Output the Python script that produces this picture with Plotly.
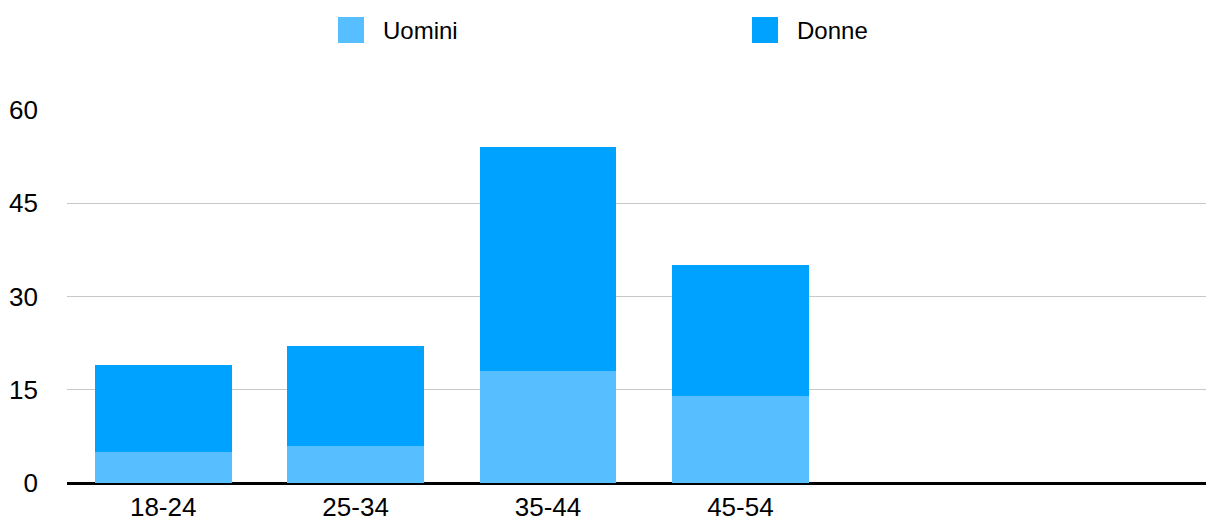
import plotly.graph_objects as go

# age groups shown on the axis
categories = ["18-24", "25-34", "35-44", "45-54"]
uomini = [5, 6, 18, 14]
donne = [14, 16, 36, 21]

series = [("Uomini", uomini, "#57BFFF"), ("Donne", donne, "#00A2FF")]
FONT = "Liberation Sans, Arial, Helvetica, sans-serif"

W, H = 1206, 522
L, R, T, B = 67, 0, 110, 39

fig = go.Figure()
for name, vals, color in series:
    fig.add_trace(go.Bar(x=categories, y=vals, name=name, marker_color=color,
                         marker_line_width=0, showlegend=False))


# plotly caps legend swatch size, so draw the legend by hand (page pixels -> paper coords)
def px_x(p):
    return (p - L) / (W - L - R)


def px_y(p):
    return (H - B - p) / (H - T - B)


legend_x = [338, 752]
for (name, vals, color), x0 in zip(series, legend_x):
    fig.add_shape(type="rect", xref="paper", yref="paper",
                  x0=px_x(x0), x1=px_x(x0 + 26), y0=px_y(43), y1=px_y(17),
                  fillcolor=color, line_width=0)
    fig.add_annotation(text=name, xref="paper", yref="paper", x=px_x(x0 + 43), y=px_y(30),
                       xanchor="left", yanchor="middle", showarrow=False,
                       font=dict(size=24, color="black"))

fig.update_layout(
    barmode="stack",
    bargap=0.288,
    width=W,
    height=H,
    margin=dict(l=L, r=R, t=T, b=B),
    paper_bgcolor="white",
    plot_bgcolor="white",
    font=dict(family=FONT, size=26, color="black"),
    showlegend=False,
)
# room for 6 age groups, the last ones are empty and cut at the right edge
fig.update_xaxes(type="category", categoryorder="array", categoryarray=categories,
                 range=[-0.5, 5.42], showgrid=False, ticks="", showline=False,
                 ticklabelstandoff=6, tickfont=dict(size=26))
fig.update_yaxes(range=[0, 60], tickvals=[0, 15, 30, 45, 60], showgrid=True,
                 gridcolor="#C8C8C8", gridwidth=1, zeroline=True, zerolinecolor="black",
                 zerolinewidth=2.5, ticks="", ticklabelstandoff=28, tickfont=dict(size=26))

fig.write_html("out.html", config={"displayModeBar": False},
               post_script="document.body.style.margin='0';")
